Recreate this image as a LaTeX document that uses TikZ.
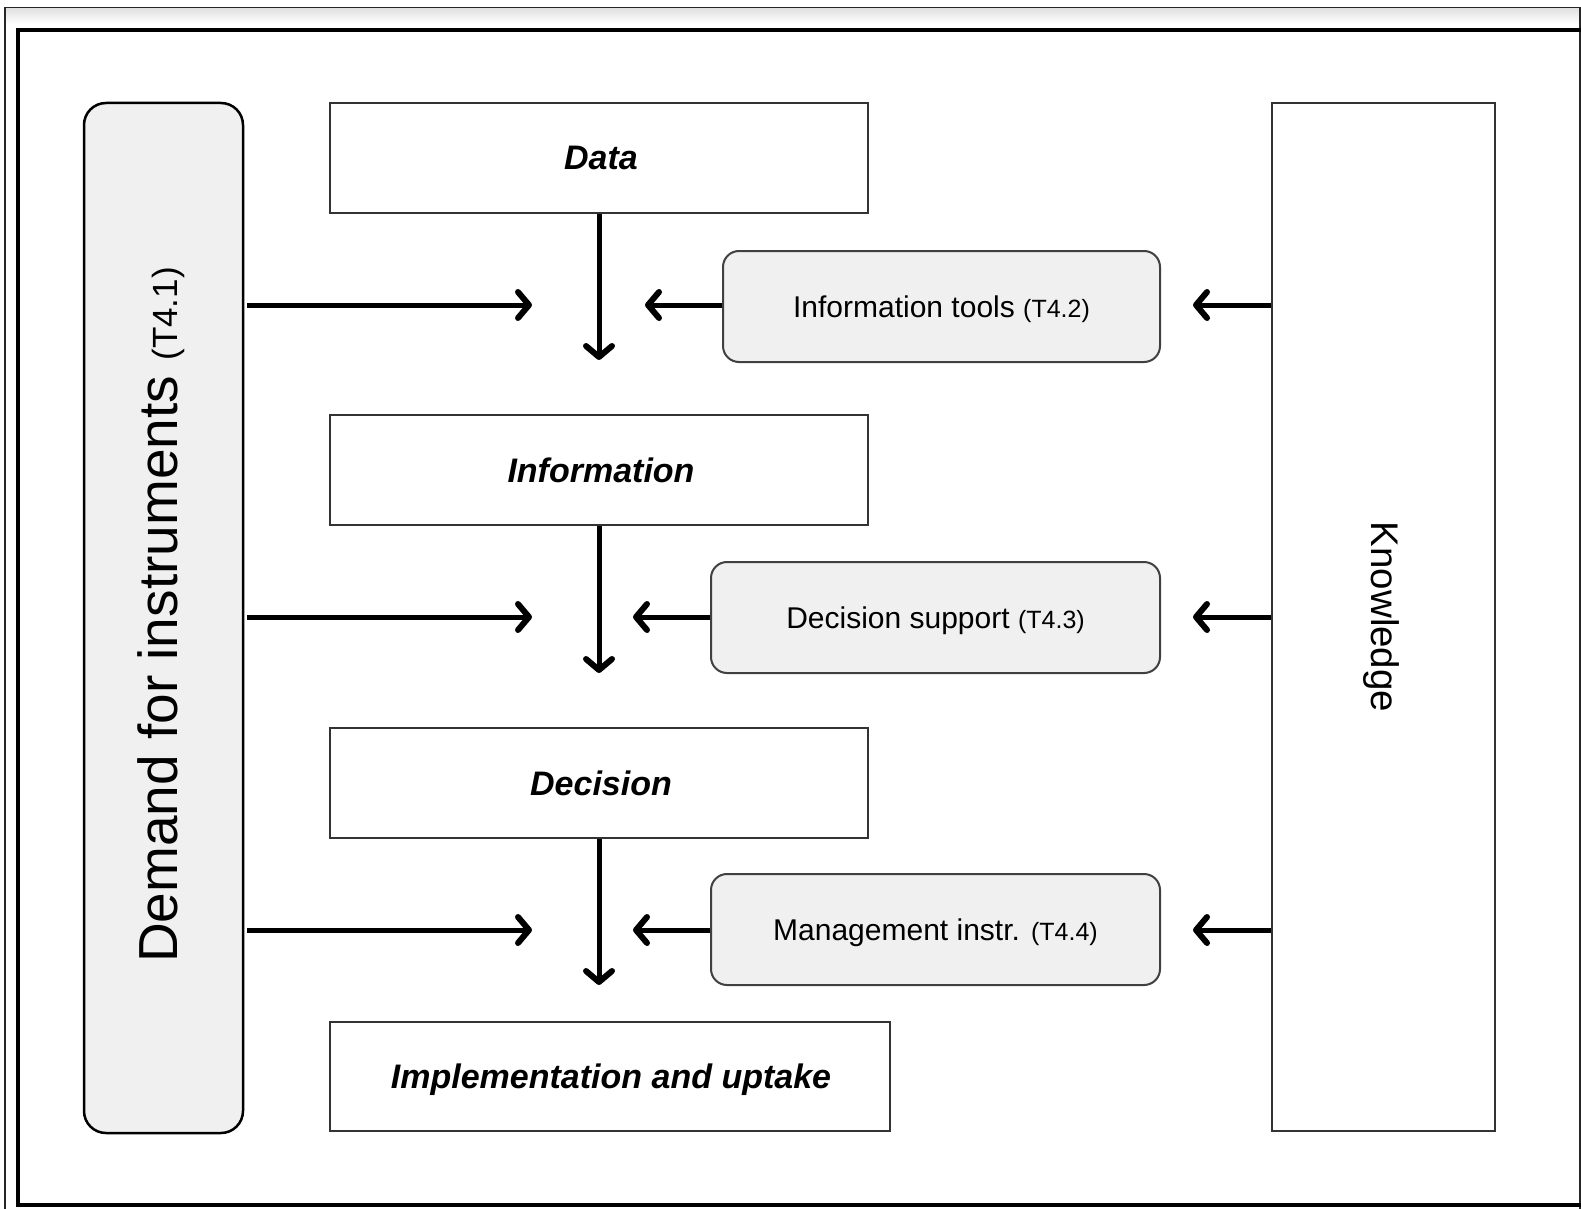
\documentclass[tikz,border=0pt]{standalone}
\usepackage{fontspec}
\setmainfont{Liberation Sans}
\usetikzlibrary{arrows.meta}
\newcommand\tasksize{\fontsize{25}{30}\selectfont}
\begin{document}
\begin{tikzpicture}[x=1pt,y=-1pt,
  stage/.style={draw=black!80, line width=2pt, fill=white, minimum width=538pt,
    minimum height=110pt, inner sep=0pt, text depth=0pt,
    font=\fontsize{34}{40}\selectfont\bfseries\itshape},
  tool/.style={draw=black!75, line width=2pt, fill=black!6, rounded corners=16pt,
    minimum height=111pt, inner sep=0pt, text depth=0pt, font=\fontsize{30}{36}\selectfont},
  arr/.style={line width=5pt, -{Straight Barb[length=11pt,width=26pt,round,line width=6pt]}}
]
\useasboundingbox (0,0) rectangle (1581,1209);
\fill[white] (0,0) rectangle (1581,1209);

% outer frames
\shade[top color=black!12, bottom color=white] (5,8) rectangle (1580,24);
\draw[black!85, line width=1.5pt] (5,1215) -- (5,7.5) -- (1580,7.5) -- (1580,1215);
\draw[black, line width=4.5pt] (1590,30) -- (18,30) -- (18,1205) -- (1590,1205);

% side boxes
\node[draw=black, line width=2.5pt, fill=black!6, rounded corners=22pt,
      minimum width=159pt, minimum height=1030pt, inner sep=0pt] (D) at (163.5,618) {};
\node[rotate=90, font=\fontsize{55}{60}\selectfont] (Dtxt) at (161,615)
  {Demand for instruments {\fontsize{35}{40}\selectfont(T4.1)}};

\node[draw=black!80, line width=2pt, fill=white, minimum width=223pt,
      minimum height=1028pt, inner sep=0pt] (K) at (1383.5,617) {};
\node[rotate=-90, font=\fontsize{38.5}{44}\selectfont] (Ktxt) at (1381,617) {Knowledge};

% stages
\node[stage] (data) at (599,158) {\hspace*{4pt}Data};
\node[stage] (info) at (599,470) {\hspace*{4pt}Information};
\node[stage] (dec)  at (599,783) {\hspace*{4pt}Decision};
\node[stage, minimum width=560pt, minimum height=109pt] (impl) at (610,1076.5)
  {\hspace*{2pt}Implementation and uptake};

% tools
\node[tool, minimum width=437pt] (it) at (941.5,306.5)
  {Information tools {\tasksize(T4.2)}};
\node[tool, minimum width=449pt] (ds) at (935.5,617.5)
  {Decision support {\tasksize(T4.3)}};
\node[tool, minimum width=449pt] (mi) at (935.5,929.5)
  {Management instr. {\tasksize(T4.4)}};

% arrow ends
\coordinate (v1) at (599,360);
\coordinate (v2) at (599,673);
\coordinate (v3) at (599,985);
\coordinate (h1) at (532,305);
\coordinate (h2) at (532,617);
\coordinate (h3) at (532,930);
\coordinate (t1) at (645,305);
\coordinate (t2) at (633,617);
\coordinate (t3) at (633,930);
\coordinate (k1) at (1193,305);
\coordinate (k2) at (1193,617);
\coordinate (k3) at (1193,930);

% vertical flow
\draw[arr] (data.south -| v1) -- (v1);
\draw[arr] (info.south -| v2) -- (v2);
\draw[arr] (dec.south -| v3) -- (v3);

% demand arrows
\draw[arr] ([xshift=3pt]D.east |- h1) -- (h1);
\draw[arr] ([xshift=3pt]D.east |- h2) -- (h2);
\draw[arr] ([xshift=3pt]D.east |- h3) -- (h3);

% tool arrows
\draw[arr] (it.west |- t1) -- (t1);
\draw[arr] (ds.west |- t2) -- (t2);
\draw[arr] (mi.west |- t3) -- (t3);

% knowledge arrows
\draw[arr] (K.west |- k1) -- (k1);
\draw[arr] (K.west |- k2) -- (k2);
\draw[arr] (K.west |- k3) -- (k3);
\end{tikzpicture}
\end{document}
